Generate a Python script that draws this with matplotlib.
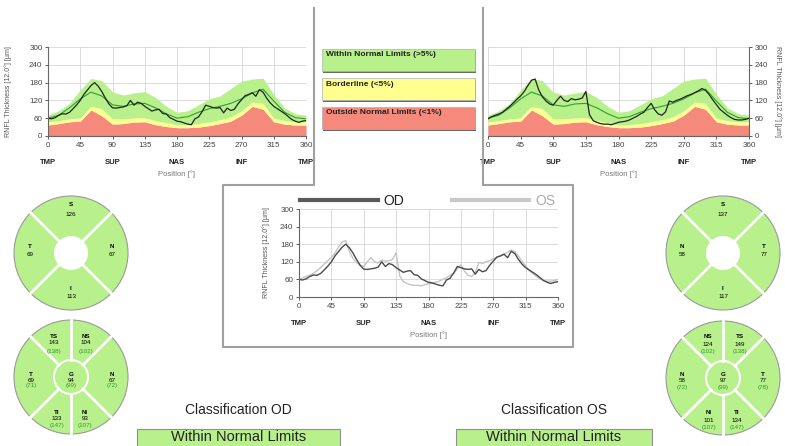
import numpy as np
import matplotlib
matplotlib.use("Agg")
import matplotlib.pyplot as plt
from matplotlib.patches import Circle, Rectangle
from matplotlib.lines import Line2D

plt.rcParams['font.family'] = ['Liberation Sans', 'DejaVu Sans']

angle = list(range(0, 361, 5))
od_curve = [60, 58, 62, 70, 75, 74, 80, 92, 105, 120, 140, 155, 170, 180, 168, 150, 128, 108,
            95, 94, 96, 98, 102, 120, 104, 114, 110, 100, 92, 84, 88, 90, 76, 74, 62, 56,
            50, 48, 44, 40, 38, 58, 64, 82, 104, 100, 96, 94, 96, 78, 94, 86, 90, 108,
            122, 136, 140, 146, 134, 156, 148, 128, 112, 100, 92, 84, 76, 66, 56, 50, 46, 50, 52]
os_curve = [58, 65, 70, 74, 80, 90, 100, 112, 124, 135, 150, 170, 188, 192, 155, 132, 118, 108,
            104, 120, 134, 120, 116, 126, 122, 124, 128, 150, 72, 52, 46, 42, 40, 40, 38, 42,
            46, 48, 50, 54, 60, 66, 74, 80, 96, 110, 88, 74, 70, 82, 118, 114, 120, 124,
            130, 136, 140, 146, 152, 160, 154, 140, 122, 106, 90, 80, 70, 62, 56, 54, 54, 56, 60]

norm_angle = list(range(0, 361, 15))
norm_p95 = [70, 85, 110, 155, 194, 187, 148, 138, 145, 150, 130, 100, 80, 85, 105, 125, 135,
            160, 185, 192, 195, 140, 95, 75, 70]
norm_mean = [60, 70, 95, 125, 148, 135, 105, 100, 108, 110, 95, 75, 60, 65, 80, 92, 100,
             110, 125, 145, 158, 118, 80, 62, 58]
norm_p5 = [48, 52, 58, 62, 100, 92, 58, 58, 62, 62, 52, 45, 38, 38, 42, 48, 55,
           65, 85, 115, 110, 60, 52, 48, 48]
norm_p1 = [37, 42, 48, 50, 88, 68, 40, 42, 47, 48, 38, 32, 28, 28, 30, 35, 42,
           50, 70, 100, 90, 48, 40, 37, 37]

xticks = [0, 45, 90, 135, 180, 225, 270, 315, 360]
yticks = [0, 60, 120, 180, 240, 300]
regions = ['TMP', 'SUP', 'NAS', 'INF', 'TMP']
region_pos = [0, 90, 180, 270, 360]

quad_names = ['S', 'T', 'N', 'I']
od_quad = [126, 69, 67, 113]
os_quad = [137, 77, 58, 117]

sector_names = ['TS', 'NS', 'T', 'G', 'N', 'TI', 'NI']
od_sector = [143, 104, 69, 94, 67, 133, 93]
od_normal = [138, 102, 71, 99, 72, 147, 107]
os_sector = [149, 124, 77, 97, 58, 134, 101]
os_normal = [138, 102, 78, 99, 72, 147, 107]

legend_labels = ['Within Normal Limits (>5%)', 'Borderline (<5%)', 'Outside Normal Limits (<1%)']

GREEN = '#b8f08c'
YELLOW = '#ffff90'
RED = '#f4897c'

W, H = 785, 446
fig = plt.figure(figsize=(W / 100, H / 100), dpi=100)


def rect(x0, y0, x1, y1):
    return [x0 / W, 1 - y1 / H, (x1 - x0) / W, (y1 - y0) / H]


def base_axes(r, hpx, side='left'):
    ax = fig.add_axes(r)
    ax.set_xlim(0, 360)
    ax.set_ylim(0, 300)
    ax.set_xticks(xticks)
    ax.set_yticks(yticks)
    ax.grid(True, color='#d4d4d4', lw=0.6)
    ax.set_axisbelow(True)
    for s in ['top', 'right', 'left']:
        ax.spines[s].set_visible(False)
    ax.spines['bottom'].set_color('#666666')
    if side == 'right':
        ax.spines['right'].set_visible(True)
        ax.spines['right'].set_color('#666666')
        ax.yaxis.tick_right()
        ax.yaxis.set_label_position('right')
    else:
        ax.spines['left'].set_visible(True)
        ax.spines['left'].set_color('#666666')
    ax.tick_params(labelsize=5.8, length=2, width=0.6, pad=2, colors='#444444')
    for x, name in zip(region_pos, regions):
        ax.text(x, -26 / hpx, name, transform=ax.get_xaxis_transform(), ha='center',
                va='center', fontsize=5.5, fontweight='bold', color='#222222')
    ax.text(180, -38 / hpx, 'Position [°]', transform=ax.get_xaxis_transform(),
            ha='center', va='center', fontsize=5.5, color='#777777')
    return ax


def tsnit(r, curve, side):
    ax = base_axes(r, 89, side)
    ax.fill_between(norm_angle, 0, norm_p1, color=RED, lw=0)
    ax.fill_between(norm_angle, norm_p1, norm_p5, color=YELLOW, lw=0)
    ax.fill_between(norm_angle, norm_p5, norm_p95, color=GREEN, lw=0)
    ax.plot(norm_angle, norm_mean, color='#2f9e2f', lw=0.8)
    ax.plot(angle, curve, color='#222222', lw=0.9)
    if side == 'right':
        ax.set_ylabel('RNFL Thickness [12.0°] [µm]', fontsize=5, color='#555555', rotation=270)
        ax.yaxis.set_label_coords(1 + 33 / 261, 0.5)
    else:
        ax.set_ylabel('RNFL Thickness [12.0°] [µm]', fontsize=5, color='#555555')
        ax.yaxis.set_label_coords(-36 / 258, 0.5)
    return ax


tsnit(rect(48, 47, 306, 136), od_curve, 'left')
tsnit(rect(488, 47, 749, 136), os_curve, 'right')

# Grafico central OD / OS
axc = base_axes(rect(299, 209, 558, 297), 88)
axc.plot(angle, os_curve, color='#c4c4c4', lw=1.0)
axc.plot(angle, od_curve, color='#4a4a4a', lw=1.0)
axc.set_ylabel('RNFL Thickness [12.0°] [µm]', fontsize=5, color='#555555')
axc.yaxis.set_label_coords(-29 / 259, 0.5)
h1 = Line2D([], [], color='#5a5a5a', lw=3)
h2 = Line2D([], [], color='#c8c8c8', lw=3)
leg = axc.legend([h1, h2], ['OD', 'OS'], ncol=2, loc='lower left', bbox_to_anchor=(0, 1.0),
                 frameon=False, fontsize=10, handlelength=5.6, handletextpad=0.4,
                 columnspacing=3.4, borderpad=0, borderaxespad=0.1)
leg.get_texts()[0].set_color('#222222')
leg.get_texts()[1].set_color('#aaaaaa')

# Marco gris
xs = np.array([314, 314, 223, 223, 573, 573, 483, 483])
ys = np.array([8, 185, 185, 347, 347, 185, 185, 8])
fig.add_artist(Line2D(xs / W, 1 - ys / H, color='#a0a0a0', lw=1.5))

# Leyenda de colores
for i, (lab, col) in enumerate(zip(legend_labels, [GREEN, YELLOW, RED])):
    top = 49 + 29 * i
    fig.add_artist(Rectangle((323 / W, 1 - (top + 24) / H), 153 / W, 22 / H,
                             transform=fig.transFigure, fc='#6a6a6a', ec='none'))
    fig.add_artist(Rectangle((322 / W, 1 - (top + 22) / H), 153 / W, 22 / H,
                             transform=fig.transFigure, fc=col, ec='#b0b0b0', lw=0.5))
    fig.text(326 / W, 1 - (top + 6) / H, lab, fontsize=6, fontweight='bold',
             va='center', ha='left', color='#222222')


def circle_axes(cx, cy):
    ax = fig.add_axes(rect(cx - 60, cy - 60, cx + 60, cy + 60))
    ax.set_xlim(-60, 60)
    ax.set_ylim(-60, 60)
    ax.axis('off')
    ax.add_patch(Circle((0, 0), 57, fc=GREEN, ec='none'))
    return ax


def quadrant_chart(cx, cy, values, mirror):
    ax = circle_axes(cx, cy)
    for a in [45, 135, 225, 315]:
        t = np.radians(a)
        ax.plot([17 * np.cos(t), 57 * np.cos(t)], [17 * np.sin(t), 57 * np.sin(t)],
                color='white', lw=2)
    ax.add_patch(Circle((0, 0), 17, fc='white', ec='none'))
    ax.add_patch(Circle((0, 0), 57, fill=False, ec='#9a9a9a', lw=0.8))
    sgn = -1 if mirror else 1
    pos = {'S': (0, 48, 39), 'T': (-41 * sgn, 6, -1), 'N': (41 * sgn, 6, -1), 'I': (0, -35, -44)}
    for name, v in zip(quad_names, values):
        x, y1, y2 = pos[name]
        ax.text(x, y1, name, fontsize=4.5, fontweight='bold', ha='center', va='center')
        ax.text(x, y2, str(v), fontsize=4.5, ha='center', va='center')


def sector_chart(cx, cy, values, normals, mirror):
    ax = circle_axes(cx, cy)
    for a in [45, 90, 135, 225, 270, 315]:
        t = np.radians(a)
        ax.plot([17 * np.cos(t), 57 * np.cos(t)], [17 * np.sin(t), 57 * np.sin(t)],
                color='white', lw=2)
    ax.add_patch(Circle((0, 0), 17, fc=GREEN, ec='white', lw=1.5))
    ax.add_patch(Circle((0, 0), 57, fill=False, ec='#9a9a9a', lw=0.8))
    sgn = -1 if mirror else 1
    pos = {'TS': (-17, 41, 34, 26), 'NS': (15, 41, 34, 26), 'T': (-40, 3, -3, -9),
           'G': (0, 3, -3, -9), 'N': (41, 3, -3, -9), 'TI': (-14, -35, -42, -49),
           'NI': (14, -35, -42, -49)}
    for name, v, nv in zip(sector_names, values, normals):
        x, y1, y2, y3 = pos[name]
        x = x * sgn
        ax.text(x, y1, name, fontsize=4.5, fontweight='bold', ha='center', va='center')
        ax.text(x, y2, str(v), fontsize=4.5, ha='center', va='center')
        ax.text(x, y3, '(%d)' % nv, fontsize=4.5, ha='center', va='center', color='#2a9a2a')


quadrant_chart(71, 253, od_quad, False)
sector_chart(71, 377, od_sector, od_normal, False)
quadrant_chart(723, 253, os_quad, True)
sector_chart(723, 378, os_sector, os_normal, True)

# Clasificacion
for x0, x1, eye in [(137, 340, 'OD'), (456, 652, 'OS')]:
    fig.text((x0 + x1) / 2 / W, 1 - 410 / H, 'Classification ' + eye, fontsize=10,
             ha='center', va='center', color='#222222')
    fig.add_artist(Rectangle((x0 / W, 1 - 450 / H), (x1 - x0) / W, 21 / H,
                             transform=fig.transFigure, fc=GREEN, ec='#909090', lw=0.8))
    fig.text((x0 + x1) / 2 / W, 1 - 437 / H, 'Within Normal Limits', fontsize=10.5,
             ha='center', va='center', color='#222222')

fig.savefig('out.png', dpi=100)
